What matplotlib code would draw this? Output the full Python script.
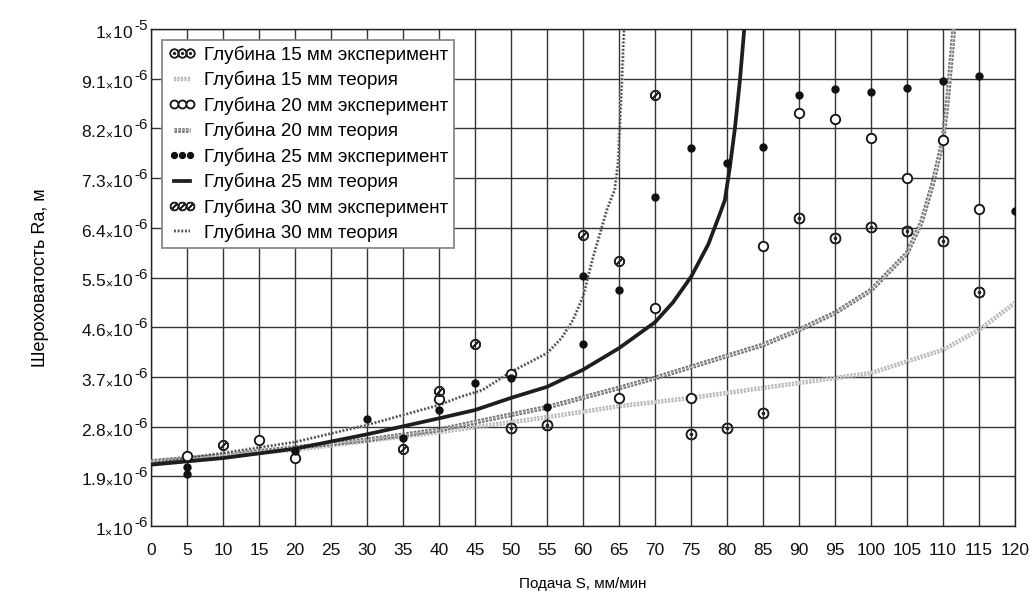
import matplotlib
matplotlib.use('Agg')
import matplotlib.pyplot as plt
import matplotlib.patheffects as pe
from matplotlib.transforms import offset_copy

plt.rcParams['font.family'] = ['Liberation Sans', 'DejaVu Sans']
plt.rcParams['mathtext.fontset'] = 'custom'
plt.rcParams['mathtext.rm'] = 'Liberation Sans'
plt.rcParams['mathtext.it'] = 'Liberation Sans:italic'
plt.rcParams['mathtext.bf'] = 'Liberation Sans:bold'

# Ra в единицах 1e-6 м, подача S в мм/мин

# теория
s_t15 = [0, 10, 20, 30, 40, 50, 55, 65, 75, 85, 90, 100, 110, 115, 120]
ra_t15 = [2.16, 2.27, 2.38, 2.54, 2.70, 2.88, 2.97, 3.17, 3.32, 3.50, 3.59, 3.77, 4.19, 4.55, 5.04]

s_t20 = [0, 10, 20, 30, 40, 45, 55, 65, 70, 76, 85, 90, 95, 100, 105, 107, 108.6, 110, 110.7, 111.25, 111.5]
ra_t20 = [2.17, 2.28, 2.42, 2.56, 2.74, 2.88, 3.15, 3.50, 3.68, 3.92, 4.28, 4.55, 4.86, 5.27, 5.94, 6.50, 7.21, 7.99, 8.80, 9.62, 10.0]

s_t25 = [0, 10, 20, 30, 40, 45, 50, 55, 60, 65, 70, 72.5, 75, 77.4, 79, 79.7, 80.4, 81.1, 81.8, 82.4]
ra_t25 = [2.11, 2.23, 2.40, 2.66, 2.95, 3.10, 3.32, 3.52, 3.83, 4.22, 4.69, 5.05, 5.51, 6.10, 6.65, 6.90, 7.50, 8.20, 9.08, 10.0]

s_t30 = [0, 10, 20, 30, 40, 43, 46, 50, 55, 57, 58.6, 60, 61.4, 63.3, 64.4, 64.9, 65.1, 65.4, 65.7]
ra_t30 = [2.14, 2.32, 2.52, 2.83, 3.19, 3.34, 3.46, 3.79, 4.13, 4.40, 4.73, 5.15, 5.87, 6.72, 7.09, 7.60, 8.23, 9.08, 10.0]

# эксперимент
s_e15 = [50, 55, 75, 80, 85, 90, 95, 100, 105, 110, 115]
ra_e15 = [2.77, 2.83, 2.67, 2.77, 3.05, 6.58, 6.22, 6.41, 6.34, 6.16, 5.24]

s_e20 = [5, 15, 20, 40, 50, 65, 70, 75, 85, 90, 95, 100, 105, 110, 115]
ra_e20 = [2.27, 2.56, 2.23, 3.30, 3.75, 3.32, 4.95, 3.32, 6.07, 8.48, 8.37, 8.03, 7.30, 7.99, 6.74]

s_e25 = [5, 5, 20, 30, 35, 40, 45, 50, 55, 60, 60, 65, 70, 75, 80, 85, 90, 95, 100, 105, 110, 115, 120]
ra_e25 = [2.07, 1.94, 2.36, 2.94, 2.59, 3.10, 3.59, 3.68, 3.15, 5.53, 4.30, 5.27, 6.95, 7.84, 7.58, 7.86, 8.81, 8.91, 8.86, 8.93, 9.06, 9.15, 6.70]

s_e30 = [10, 35, 40, 45, 60, 65, 70]
ra_e30 = [2.47, 2.39, 3.44, 4.29, 6.27, 5.80, 8.80]

yticks = [1, 1.9, 2.8, 3.7, 4.6, 5.5, 6.4, 7.3, 8.2, 9.1, 10]


def m(vals):
    return [v * 1e-6 for v in vals]


fig = plt.figure(figsize=(10.36, 6.01), dpi=100)
ax = fig.add_axes([0.1458, 0.1248, 0.8339, 0.8269])

ax.plot(s_e15, m(ra_e15), linestyle='none', marker=r'$\odot$', ms=7.5, color='#222222',
        label='Глубина 15 мм эксперимент', zorder=5)
ax.plot(s_t15, m(ra_t15), color='#d4d4d4', lw=1.0, linestyle=(0, (1.5, 1)),
        path_effects=[pe.Stroke(linewidth=3.2, foreground='#b2b2b2'), pe.Normal()],
        label='Глубина 15 мм теория', zorder=3)
ax.plot(s_e20, m(ra_e20), linestyle='none', marker='o', ms=6.8, mfc='white', mec='#111111',
        mew=1.3, label='Глубина 20 мм эксперимент', zorder=5)
ax.plot(s_t20, m(ra_t20), color='#b8b8b8', lw=1.2, linestyle=(0, (1.5, 0.8)),
        path_effects=[pe.Stroke(linewidth=3.4, foreground='#6c6c6c'), pe.Normal()],
        label='Глубина 20 мм теория', zorder=3)
ax.plot(s_e25, m(ra_e25), linestyle='none', marker='o', ms=5, color='#111111',
        label='Глубина 25 мм эксперимент', zorder=5)
ax.plot(s_t25, m(ra_t25), color='#1e1e1e', lw=2.7,
        label='Глубина 25 мм теория', zorder=4)
ax.plot(s_e30, m(ra_e30), linestyle='none', marker=r'$\oslash$', ms=7, color='#222222',
        label='Глубина 30 мм эксперимент', zorder=5)
ax.plot(s_t30, m(ra_t30), color='#3c3c3c', lw=1.1, linestyle=(0, (1.2, 1.2)),
        path_effects=[pe.Stroke(linewidth=2.6, foreground='#a6a6a6'), pe.Normal()],
        label='Глубина 30 мм теория', zorder=3)

ax.set_xlim(0, 120)
ax.set_ylim(1e-6, 1e-5)
ax.set_xticks(range(0, 121, 5))
ax.set_yticks(m(yticks))
ax.set_yticklabels([])
ax.tick_params(length=0, labelsize=12.5, colors='#111111')
ax.tick_params(axis='x', pad=12)
ax.grid(True, color='#333333', lw=1.0)
ax.set_axisbelow(True)
for sp in ax.spines.values():
    sp.set_color('#222222')
    sp.set_linewidth(1.0)

# подписи оси Ra: мантисса и крупный показатель степени
ytrans = ax.get_yaxis_transform()
base_tr = offset_copy(ytrans, fig=fig, x=-18, y=-3, units='dots')
exp_tr = offset_copy(ytrans, fig=fig, x=-17, y=-4, units='dots')
for v in yticks:
    mant = '1' if v in (1, 10) else f'{v:.1f}'
    power = '-5' if v == 10 else '-6'
    ax.text(0, v * 1e-6, mant + r'$_{\times}$10', transform=base_tr, ha='right', va='center',
            fontsize=12.5, color='#111111')
    ax.text(0, v * 1e-6, power, transform=exp_tr, ha='left', va='bottom',
            fontsize=11, color='#111111')

ax.set_xlabel('Подача S, мм/мин', fontsize=11)
ax.set_ylabel('Шероховатость Ra, м', fontsize=13)
ax.xaxis.set_label_coords(0.5, -0.103)
ax.yaxis.set_label_coords(-0.118, 0.5)

leg = ax.legend(loc='upper left', bbox_to_anchor=(0.013, 0.978), fontsize=13.5,
                numpoints=3, handlelength=1.5, handletextpad=0.45, labelspacing=0.38,
                borderpad=0.3, borderaxespad=0, fancybox=False, framealpha=1,
                markerscale=0.85)
leg.get_frame().set_edgecolor('#888888')
leg.get_frame().set_linewidth(1.3)

fig.savefig('out.png', dpi=100)
